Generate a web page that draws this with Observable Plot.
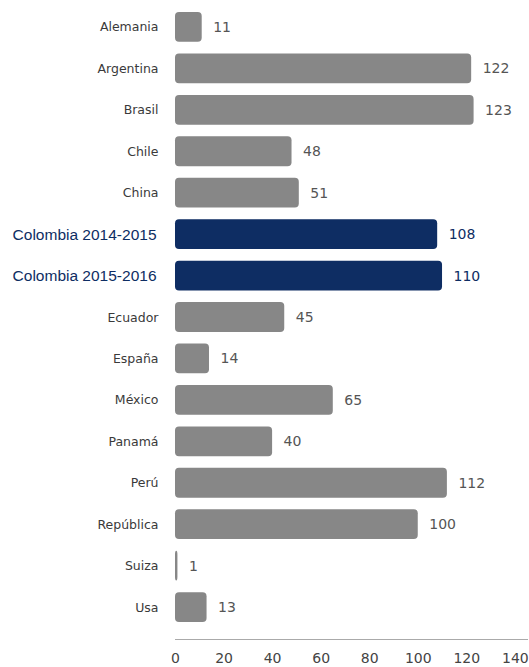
<!DOCTYPE html>
<html>
<head>
<meta charset="utf-8">
<script src="https://cdn.jsdelivr.net/npm/d3@7"></script>
<script src="https://cdn.jsdelivr.net/npm/@observablehq/plot@0.6"></script>
<style>
  html, body { margin: 0; padding: 0; background: #fff; }
</style>
</head>
<body>
<div id="chart"></div>
<script>
const categories = ["Alemania", "Argentina", "Brasil", "Chile", "China", "Colombia 2014-2015", "Colombia 2015-2016", "Ecuador", "España", "México", "Panamá", "Perú", "República", "Suiza", "Usa"];
const values = [11, 122, 123, 48, 51, 108, 110, 45, 14, 65, 40, 112, 100, 1, 13];
const highlighted = ["Colombia 2014-2015", "Colombia 2015-2016"];
const xTicks = [0, 20, 40, 60, 80, 100, 120, 140];

const navy = "#0e2d63";
const gray = "#878787";
const data = categories.map((c, i) => ({name: c, value: values[i], hi: highlighted.includes(c)}));
const plain = data.filter(d => !d.hi);
const hiData = data.filter(d => d.hi);

const chart = Plot.plot({
  width: 529,
  height: 667,
  marginLeft: 175,
  marginRight: 2,
  marginTop: 12,
  marginBottom: 45,
  style: {fontFamily: "'DejaVu Sans', 'Liberation Sans', sans-serif", fontSize: "14px", background: "#fff"},
  x: {domain: [0, 145], axis: null},
  y: {domain: categories, axis: null, paddingInner: 0.28, paddingOuter: 0, round: false},
  marks: [
    Plot.barX(data, {x: "value", y: "name", fill: d => d.hi ? navy : gray, rx: 4}),
    Plot.text(data, {x: "value", y: "name", text: d => String(d.value), textAnchor: "start", dx: 11, fontSize: 14, fill: d => d.hi ? navy : "#555"}),
    Plot.text(plain, {y: "name", text: "name", frameAnchor: "left", textAnchor: "end", dx: -17, fontSize: 12.5, fill: "#3a3a3a"}),
    Plot.text(hiData, {y: "name", text: "name", frameAnchor: "left", textAnchor: "end", dx: -19, fontSize: 15.5, fontFamily: "'Liberation Sans', Arial, sans-serif", fill: navy}),
    Plot.frame({anchor: "bottom", dy: 17, stroke: "#aaa"}),
    Plot.axisX({ticks: xTicks, tickSize: 0, tickPadding: 31, fontSize: 14, fill: "#444", label: null, tickFormat: d => String(d)})
  ]
});
document.getElementById("chart").append(chart);
</script>
</body>
</html>
